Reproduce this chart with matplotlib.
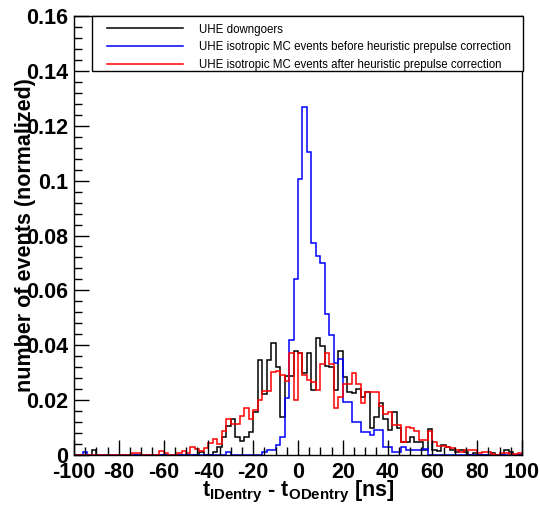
import numpy as np
import matplotlib
matplotlib.use("Agg")
from matplotlib import pyplot as plt
from matplotlib.lines import Line2D
from matplotlib.patches import Rectangle
from matplotlib.ticker import MultipleLocator, FuncFormatter

# 2 ns bins from -100 to 100 ns
bin_edges = np.arange(-100, 101, 2)

downgoers = [
    0, 0, 0, 0, 0.0018, 0, 0, 0, 0, 0,
    0, 0, 0, 0, 0, 0, 0, 0, 0, 0,
    0, 0, 0, 0, 0, 0, 0, 0, 0.0012, 0,
    0, 0.001, 0.003, 0.0064, 0.0105, 0.013, 0.0067, 0.005, 0.0067, 0.0085,
    0.0156, 0.0348, 0.0222, 0.0348, 0.041, 0.0319, 0.0139, 0.0287, 0.0287, 0.038,
    0.037, 0.030, 0.037, 0.0236, 0.0428, 0.0396, 0.0325, 0.032, 0.0236, 0.038,
    0.0285, 0.023, 0.0226, 0.024, 0.021, 0.023, 0.0097, 0.014, 0.0188, 0.0133,
    0.009, 0.0158, 0.0097, 0.0048, 0.0048, 0.0064, 0.0048, 0.0048, 0.0018, 0.0093,
    0.0018, 0.0016, 0.0036, 0.0028, 0.0018, 0.0012, 0.0018, 0.0012, 0, 0.0006,
    0, 0, 0, 0.0006, 0, 0, 0.0018, 0.0012, 0, 0,
]

mc_before = [
    0, 0, 0.001, 0, 0, 0, 0, 0, 0, 0,
    0, 0, 0, 0, 0, 0, 0, 0, 0, 0,
    0, 0, 0, 0, 0, 0, 0, 0, 0, 0,
    0, 0, 0, 0, 0.001, 0, 0, 0, 0, 0,
    0, 0, 0.0012, 0.002, 0.002, 0.0036, 0.0067, 0.0206, 0.0418, 0.064,
    0.1006, 0.127, 0.1104, 0.0773, 0.0724, 0.070, 0.0513, 0.0439, 0.0336, 0.035,
    0.0194, 0.0194, 0.0121, 0.0121, 0.0085, 0.0085, 0.0073, 0.009, 0.009, 0.003,
    0.0028, 0.0012, 0.0012, 0.0028, 0.0018, 0.0018, 0.0018, 0.0018, 0.0022, 0,
    0, 0, 0, 0, 0, 0, 0, 0, 0, 0,
    0, 0, 0, 0, 0, 0, 0, 0, 0, 0,
]

mc_after = [
    0, 0, 0, 0, 0, 0, 0, 0, 0, 0,
    0, 0, 0, 0.0009, 0.0009, 0, 0, 0, 0, 0.0015,
    0.0008, 0, 0, 0.0006, 0.0015, 0.0006, 0.003, 0.0022, 0.0015, 0.0024,
    0.0045, 0.006, 0.004, 0.0088, 0.0133, 0.0113, 0.0113, 0.0142, 0.017, 0.0133,
    0.0164, 0.020, 0.0234, 0.0234, 0.0303, 0.0306, 0.029, 0.027, 0.037, 0.020,
    0.037, 0.029, 0.0275, 0.0267, 0.0236, 0.0333, 0.037, 0.0333, 0.017, 0.021,
    0.026, 0.026, 0.030, 0.026, 0.0188, 0.023, 0.023, 0.023, 0.018, 0.015,
    0.0155, 0.011, 0.011, 0.0048, 0.0103, 0.0097, 0.0087, 0.0055, 0.0055, 0.0087,
    0.0048, 0.0034, 0.0034, 0.003, 0.0024, 0.0018, 0.0012, 0.002, 0.002, 0.0018,
    0.0006, 0.0012, 0.0012, 0.0004, 0, 0.0008, 0.0008, 0.0004, 0.0004, 0.0008,
]

labels = [
    "UHE downgoers",
    "UHE isotropic MC events before heuristic prepulse correction",
    "UHE isotropic MC events after heuristic prepulse correction",
]
colors = ["black", "#0000ff", "#ff0000"]

plt.rcParams["font.family"] = ["Liberation Sans", "DejaVu Sans"]
plt.rcParams["font.weight"] = "bold"
plt.rcParams["axes.labelweight"] = "bold"
plt.rcParams["mathtext.fontset"] = "custom"
plt.rcParams["mathtext.rm"] = "Liberation Sans:bold"
plt.rcParams["mathtext.default"] = "rm"

W, H = 540, 508
fig = plt.figure(figsize=(W / 100, H / 100), dpi=100)
ax = fig.add_axes([74 / W, 1 - 455 / H, (522 - 74) / W, (455 - 16) / H])

for vals, c in zip([downgoers, mc_before, mc_after], colors):
    ax.stairs(vals, bin_edges, color=c, lw=1.1)

ax.set_xlim(-100, 100)
ax.set_ylim(0, 0.16)

ax.xaxis.set_major_locator(MultipleLocator(20))
ax.xaxis.set_minor_locator(MultipleLocator(5))
ax.yaxis.set_major_locator(MultipleLocator(0.02))
ax.yaxis.set_minor_locator(MultipleLocator(0.004))
ax.yaxis.set_major_formatter(FuncFormatter(lambda v, p: f"{v:g}"))
ax.xaxis.set_major_formatter(FuncFormatter(lambda v, p: f"{v:g}"))

ax.tick_params(which="both", direction="in", top=False, right=False,
               width=1, labelsize=15.5)
ax.tick_params(which="major", length=11)
ax.tick_params(which="minor", length=6)
ax.tick_params(axis="y", pad=4)
ax.tick_params(axis="x", pad=5)
for s in ax.spines.values():
    s.set_linewidth(1)

ax.set_ylabel("number of events (normalized)", fontsize=15.5)
ax.yaxis.set_label_coords((36 - 74) / 448, 0.5)
ax.set_xlabel(r"$t_{IDentry}$ - $t_{ODentry}$ [ns]", fontsize=15.5)
ax.xaxis.set_label_coords(0.5, (455 - 479) / 439)

# legend box in ROOT style
fig.add_artist(Rectangle((92 / W, 1 - 71 / H), (523 - 92) / W, (71 - 16) / H,
                         transform=fig.transFigure, facecolor="white",
                         edgecolor="black", lw=1, zorder=3))
handles = [Line2D([], [], color=c, lw=1.1) for c in colors]
leg = fig.legend(handles, labels, loc="upper left",
                 bbox_to_anchor=(107 / W, 1 - 23.5 / H), borderaxespad=0,
                 borderpad=0, frameon=False,
                 prop={"weight": "normal", "size": 8.3},
                 handlelength=6.6, handletextpad=1.4, labelspacing=0.49)
leg.set_zorder(4)

fig.savefig("out.png", dpi=100)
